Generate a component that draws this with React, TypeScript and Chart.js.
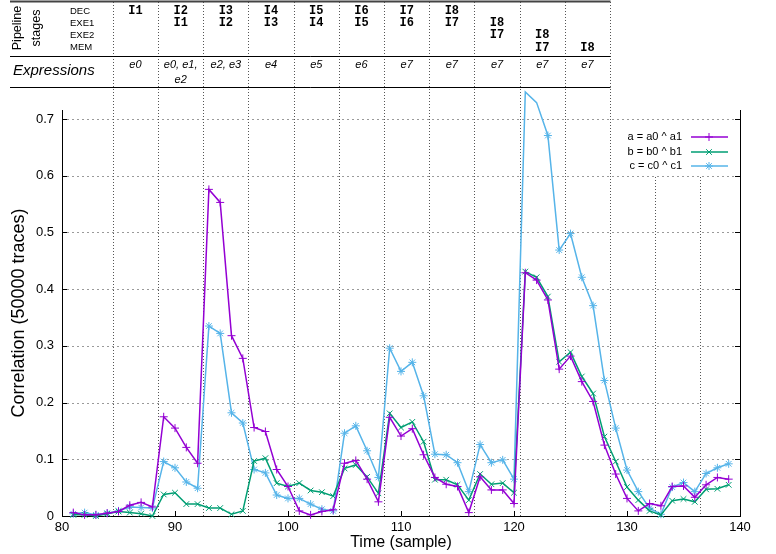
import React, { useEffect, useRef } from 'react';
import { Chart, registerables } from 'chart.js';

Chart.register(...registerables);

// ---------------- data ----------------
const samples = [81, 82, 83, 84, 85, 86, 87, 88, 89, 90, 91, 92, 93, 94, 95, 96, 97, 98, 99, 100,
  101, 102, 103, 104, 105, 106, 107, 108, 109, 110, 111, 112, 113, 114, 115, 116, 117, 118, 119, 120,
  121, 122, 123, 124, 125, 126, 127, 128, 129, 130, 131, 132, 133, 134, 135, 136, 137, 138, 139];

const seriesA = [0.006, 0.002, 0.002, 0.005, 0.008, 0.019, 0.024, 0.016, 0.175, 0.155, 0.121, 0.093, 0.576, 0.553, 0.318, 0.278, 0.156, 0.149, 0.082, 0.052,
  0.009, 0.002, 0.008, 0.011, 0.093, 0.098, 0.065, 0.025, 0.174, 0.141, 0.154, 0.108, 0.068, 0.056, 0.052, 0.006, 0.069, 0.046, 0.046, 0.022,
  0.429, 0.416, 0.381, 0.259, 0.282, 0.237, 0.202, 0.125, 0.074, 0.031, 0.009, 0.022, 0.018, 0.052, 0.053, 0.033, 0.055, 0.068, 0.065];

const seriesB = [0.002, 0.002, 0.000, 0.004, 0.008, 0.006, 0.004, 0.000, 0.038, 0.041, 0.021, 0.021, 0.014, 0.014, 0.003, 0.009, 0.097, 0.102, 0.058, 0.052,
  0.058, 0.045, 0.042, 0.035, 0.084, 0.090, 0.069, 0.040, 0.181, 0.156, 0.166, 0.131, 0.064, 0.064, 0.055, 0.028, 0.074, 0.056, 0.058, 0.041,
  0.431, 0.421, 0.387, 0.272, 0.289, 0.246, 0.216, 0.140, 0.096, 0.051, 0.028, 0.009, 0.002, 0.027, 0.030, 0.025, 0.047, 0.048, 0.055];

const seriesC = [0.004, 0.006, 0.002, 0.005, 0.009, 0.016, 0.015, 0.014, 0.096, 0.085, 0.060, 0.049, 0.335, 0.322, 0.182, 0.164, 0.082, 0.076, 0.037, 0.031,
  0.031, 0.021, 0.012, 0.009, 0.146, 0.159, 0.115, 0.068, 0.296, 0.255, 0.271, 0.212, 0.109, 0.108, 0.094, 0.043, 0.126, 0.094, 0.099, 0.065,
  0.748, 0.729, 0.671, 0.469, 0.498, 0.421, 0.371, 0.239, 0.155, 0.081, 0.043, 0.014, 0.003, 0.051, 0.059, 0.043, 0.075, 0.085, 0.092];

const seriesNames = ['a = a0 ^ a1', 'b = b0 ^ b1', 'c = c0 ^ c1'];
const seriesColors = ['#9400d3', '#009e73', '#56b4e9'];
const seriesMarkers = ['cross', 'crossRot', 'star'];

const xTicks = [80, 90, 100, 110, 120, 130, 140];
const yTicks = [0, 0.1, 0.2, 0.3, 0.4, 0.5, 0.6, 0.7];

// stage boundaries (vertical dotted lines); the first 12 delimit the table's 11 columns
const dividers = [84.5, 88.5, 92.5, 96.5, 100.5, 104.5, 108.5, 112.5, 116.5, 120.5, 124.5, 128.5, 132.5, 136.5];
const tableDividerCount = 12;

const stageNames = ['DEC', 'EXE1', 'EXE2', 'MEM'];
const stageColumns = [
  ['I1', '', '', ''],
  ['I2', 'I1', '', ''],
  ['I3', 'I2', '', ''],
  ['I4', 'I3', '', ''],
  ['I5', 'I4', '', ''],
  ['I6', 'I5', '', ''],
  ['I7', 'I6', '', ''],
  ['I8', 'I7', '', ''],
  ['', 'I8', 'I7', ''],
  ['', '', 'I8', 'I7'],
  ['', '', '', 'I8'],
];
const expressions = [
  ['e0'],
  ['e0, e1,', 'e2'],
  ['e2, e3'],
  ['e4'],
  ['e5'],
  ['e6'],
  ['e7'],
  ['e7'],
  ['e7'],
  ['e7'],
  ['e7'],
];

const xTitle = 'Time (sample)';
const yTitle = 'Correlation (50000 traces)';

// ---------------- drawing helpers ----------------
const SANS = '"Liberation Sans", Arial, sans-serif';
const MONO = '"Liberation Mono", "Courier New", monospace';

function seg(ctx: CanvasRenderingContext2D, x1: number, y1: number, x2: number, y2: number) {
  ctx.beginPath();
  ctx.moveTo(x1, y1);
  ctx.lineTo(x2, y2);
  ctx.stroke();
}

function marker(ctx: CanvasRenderingContext2D, kind: string, x: number, y: number, r: number) {
  ctx.beginPath();
  if (kind === 'cross' || kind === 'star') {
    ctx.moveTo(x - r, y); ctx.lineTo(x + r, y);
    ctx.moveTo(x, y - r); ctx.lineTo(x, y + r);
  }
  if (kind === 'crossRot' || kind === 'star') {
    const d = r * 0.707;
    ctx.moveTo(x - d, y - d); ctx.lineTo(x + d, y + d);
    ctx.moveTo(x - d, y + d); ctx.lineTo(x + d, y - d);
  }
  ctx.stroke();
}

const overlayPlugin = {
  id: 'overlay',
  beforeDatasetsDraw(chart: any) {
    const { ctx, chartArea, scales } = chart;
    const x = scales.x, y = scales.y;
    ctx.save();
    // horizontal dotted grid
    ctx.strokeStyle = '#9a9a9a';
    ctx.lineWidth = 1;
    ctx.setLineDash([2, 3]);
    yTicks.forEach((v) => {
      if (v === 0) return;
      const py = Math.round(y.getPixelForValue(v)) + 0.5;
      seg(ctx, chartArea.left, py, chartArea.right, py);
    });
    // vertical stage dividers
    ctx.strokeStyle = '#555';
    ctx.setLineDash([1, 2]);
    dividers.forEach((d, i) => {
      const px = Math.round(x.getPixelForValue(d)) + 0.5;
      const top = i < tableDividerCount ? 2 : 177;
      seg(ctx, px, top, px, chartArea.bottom);
    });
    ctx.restore();
  },
  afterDraw(chart: any) {
    const { ctx, chartArea, scales } = chart;
    const x = scales.x, y = scales.y;
    ctx.save();
    ctx.setLineDash([]);
    // right border
    ctx.strokeStyle = '#000';
    ctx.lineWidth = 1;
    seg(ctx, chartArea.right + 0.5, chartArea.top, chartArea.right + 0.5, chartArea.bottom);
    // inward ticks
    yTicks.forEach((v) => {
      const py = Math.round(y.getPixelForValue(v)) + 0.5;
      seg(ctx, chartArea.left, py, chartArea.left + 5, py);
      seg(ctx, chartArea.right - 5, py, chartArea.right, py);
    });
    xTicks.forEach((v) => {
      const px = Math.round(x.getPixelForValue(v)) + 0.5;
      seg(ctx, px, chartArea.bottom, px, chartArea.bottom - 5);
    });

    // axis titles
    ctx.fillStyle = '#000';
    ctx.textAlign = 'center';
    ctx.textBaseline = 'middle';
    ctx.font = `16px ${SANS}`;
    ctx.fillText(xTitle, (chartArea.left + chartArea.right) / 2, 543);
    ctx.save();
    ctx.translate(19, (chartArea.top + chartArea.bottom) / 2);
    ctx.rotate(-Math.PI / 2);
    ctx.font = `18px ${SANS}`;
    ctx.fillText(yTitle, 0, 0);
    ctx.restore();

    // legend
    ctx.font = `11px ${SANS}`;
    ctx.textAlign = 'right';
    const legendRows = [137, 152, 166];
    seriesNames.forEach((name, i) => {
      const ly = legendRows[i];
      ctx.fillStyle = '#000';
      ctx.fillText(name, 682, ly);
      ctx.strokeStyle = seriesColors[i];
      ctx.lineWidth = 1.5;
      seg(ctx, 691, ly, 728, ly);
      ctx.lineWidth = 1;
      marker(ctx, seriesMarkers[i], 709, ly, 4);
    });

    // table
    const tableLeft = 10;
    const tableRight = Math.round(x.getPixelForValue(dividers[tableDividerCount - 1])) + 0.5;
    ctx.strokeStyle = '#444';
    ctx.lineWidth = 2;
    seg(ctx, tableLeft, 1.5, tableRight, 1.5);
    ctx.strokeStyle = '#000';
    ctx.lineWidth = 1;
    seg(ctx, tableLeft, 56.5, tableRight, 56.5);
    seg(ctx, tableLeft, 87.5, tableRight, 87.5);

    ctx.fillStyle = '#000';
    // rotated heading
    ctx.textAlign = 'center';
    ctx.font = `12.5px ${SANS}`;
    [['Pipeline', 18], ['stages', 37]].forEach(([t, cx]) => {
      ctx.save();
      ctx.translate(cx as number, 28);
      ctx.rotate(-Math.PI / 2);
      ctx.fillText(t as string, 0, 0);
      ctx.restore();
    });
    const rowY = [11, 23.3, 35.3, 47.6];
    ctx.textAlign = 'left';
    ctx.font = `9.5px ${SANS}`;
    stageNames.forEach((s, r) => ctx.fillText(s, 70, rowY[r]));
    ctx.font = `italic 15px ${SANS}`;
    ctx.fillText('Expressions', 13, 70.5);

    ctx.textAlign = 'center';
    stageColumns.forEach((col, c) => {
      const x0 = x.getPixelForValue(dividers[c]);
      const x1 = x.getPixelForValue(dividers[c + 1]);
      const cx = (x0 + x1) / 2;
      ctx.font = `bold 12px ${MONO}`;
      col.forEach((t, r) => {
        if (t) ctx.fillText(t, cx, rowY[r]);
      });
      ctx.font = `italic 11px ${SANS}`;
      expressions[c].forEach((t, k) => ctx.fillText(t, cx, 65 + k * 14.5));
    });
    ctx.restore();
  },
};

export default function App() {
  const ref = useRef<HTMLCanvasElement | null>(null);
  useEffect(() => {
    if (!ref.current) return;
    const series = [seriesA, seriesB, seriesC];
    const chart = new Chart(ref.current, {
      type: 'line',
      data: {
        datasets: series.map((s, i) => ({
          label: seriesNames[i],
          data: samples.map((t, k) => ({ x: t, y: s[k] })),
          borderColor: seriesColors[i],
          backgroundColor: seriesColors[i],
          borderWidth: 1.5,
          pointStyle: seriesMarkers[i] as any,
          pointRadius: 4,
          pointBorderWidth: 1,
          pointBorderColor: seriesColors[i],
          tension: 0,
          fill: false,
          clip: false as any,
        })),
      },
      options: {
        responsive: false,
        animation: false,
        devicePixelRatio: 1,
        layout: { padding: { top: 110, right: 36, left: 0, bottom: 0 } },
        plugins: { legend: { display: false }, tooltip: { enabled: false }, title: { display: false } },
        scales: {
          x: {
            type: 'linear',
            min: 80,
            max: 140,
            afterBuildTicks: (s: any) => { s.ticks = xTicks.map((v) => ({ value: v })); },
            afterFit: (s: any) => { s.height = 38; },
            ticks: { color: '#000', font: { family: SANS, size: 13 }, padding: 4, maxRotation: 0 },
            grid: { display: false, drawTicks: false },
            border: { display: true, color: '#000', width: 1 },
          },
          y: {
            type: 'linear',
            min: 0,
            max: 0.716,
            afterBuildTicks: (s: any) => { s.ticks = yTicks.map((v) => ({ value: v })); },
            afterFit: (s: any) => { s.width = 62; },
            ticks: {
              color: '#000',
              font: { family: SANS, size: 13 },
              padding: 8,
              callback: (v: any) => (v === 0 ? '0' : Number(v).toFixed(1)),
            },
            grid: { display: false, drawTicks: false },
            border: { display: true, color: '#000', width: 1 },
          },
        },
      },
      plugins: [overlayPlugin],
    } as any);
    return () => chart.destroy();
  }, []);
  return (
    <div style={{ position: 'fixed', left: 0, top: 0, width: 776, height: 554, background: '#fff' }}>
      <canvas ref={ref} width={776} height={554} style={{ width: 776, height: 554, display: 'block' }} />
    </div>
  );
}
